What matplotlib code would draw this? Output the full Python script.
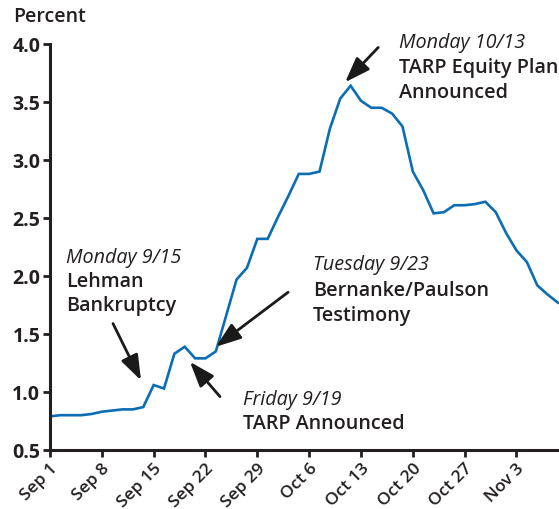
import numpy as np
import pandas as pd
import matplotlib
matplotlib.use('Agg')
import matplotlib.pyplot as plt

# spread (percent), one value per business day from Sep 1 to Nov 7, 2008
spread = [0.79, 0.80, 0.80, 0.80, 0.81, 0.83, 0.84, 0.85, 0.85, 0.87,
          1.06, 1.03, 1.33, 1.39, 1.29, 1.29, 1.35, 1.66, 1.97, 2.07,
          2.32, 2.32, 2.51, 2.69, 2.88, 2.88, 2.90, 3.27, 3.53, 3.64,
          3.51, 3.45, 3.45, 3.40, 3.29, 2.90, 2.74, 2.54, 2.55, 2.61,
          2.61, 2.62, 2.64, 2.55, 2.37, 2.22, 2.12, 1.92, 1.84, 1.77]
dates = pd.bdate_range('2008-09-01', periods=len(spread))
tick_labels = ['Sep 1', 'Sep 8', 'Sep 15', 'Sep 22', 'Sep 29', 'Oct 6',
               'Oct 13', 'Oct 20', 'Oct 27', 'Nov 3']
y_ticks = [0.5, 1.0, 1.5, 2.0, 2.5, 3.0, 3.5, 4.0]

plt.rcParams['font.family'] = ['Open Sans', 'DejaVu Sans']
ink = '#231f20'
blue = '#0b6db3'

fig = plt.figure(figsize=(5.59, 5.10), dpi=100)
ax = fig.add_axes([0.0894, 0.1157, 0.9106, 0.7961])

x = np.arange(len(spread))
ax.plot(x, spread, color=blue, lw=1.9, solid_joinstyle='miter')

# ticks on Mondays
mondays = [i for i, d in enumerate(dates) if d.weekday() == 0]
ax.set_xticks(mondays)
ax.set_xticklabels(tick_labels, rotation=45, ha='right', rotation_mode='anchor',
                   fontsize=12.5, color=ink, fontweight='semibold')
ax.set_yticks(y_ticks)
ax.set_yticklabels([f'{v:.1f}' for v in y_ticks], fontsize=14, color=ink,
                   fontweight='bold')
ax.set_xlim(0, 49.1)
ax.set_ylim(0.5, 4.0)

for s in ['top', 'right']:
    ax.spines[s].set_visible(False)
for s in ['left', 'bottom']:
    ax.spines[s].set_linewidth(2.2)
    ax.spines[s].set_color(ink)
ax.tick_params(direction='out', length=5, width=2, color=ink, pad=2)

fig.text(0.023, 0.966, 'Percent', fontsize=14, color=ink, fontweight='semibold',
         va='center', ha='left')

arrow = dict(arrowstyle='-|>,head_length=0.7,head_width=0.25', color='#1a1a1a',
             lw=2, mutation_scale=22, shrinkA=0, shrinkB=0)


def note(xt, yt, lines, dy=0.205):
    ax.text(xt, yt, lines[0], fontsize=14.2, style='italic', color=ink,
            va='center', ha='left')
    for k, s in enumerate(lines[1:], 1):
        ax.text(xt, yt - k * dy, s, fontsize=14.2, color=ink,
                fontweight='semibold', va='center', ha='left')


note(1.54, 2.164, ['Monday 9/15', 'Lehman', 'Bankruptcy'])
ax.annotate('', xy=(8.78, 1.10), xytext=(6.08, 1.59), arrowprops=arrow)

note(18.63, 0.94, ['Friday 9/19', 'TARP Announced'])
ax.annotate('', xy=(13.5, 1.26), xytext=(16.4, 0.96), arrowprops=arrow)

note(25.39, 2.103, ['Tuesday 9/23', 'Bernanke/Paulson', 'Testimony'], dy=0.22)
ax.annotate('', xy=(16.0, 1.39), xytext=(22.97, 1.86), arrowprops=arrow)

note(33.69, 4.017, ['Monday 10/13', 'TARP Equity Plan', 'Announced'], dy=0.215)
ax.annotate('', xy=(28.47, 3.67), xytext=(31.66, 3.97), arrowprops=arrow,
            annotation_clip=False)

fig.savefig('out.png', dpi=100)
